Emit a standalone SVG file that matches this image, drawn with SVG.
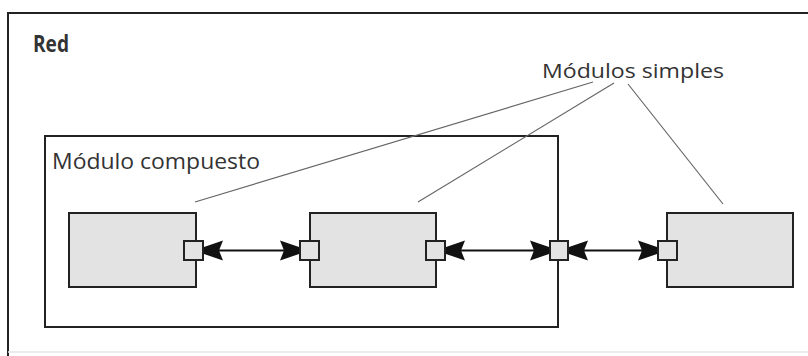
<svg xmlns="http://www.w3.org/2000/svg" width="808" height="356" viewBox="0 0 808 356">
  <style>
    .frame { fill: none; stroke: #222; stroke-width: 2; }
    .module { fill: #e3e3e3; stroke: #222; stroke-width: 2; }
    .port { fill: #e3e3e3; stroke: #222; stroke-width: 2; }
    .link { stroke: #111; stroke-width: 2; fill: none; marker-start: url(#head); marker-end: url(#head); }
    .callout { stroke: #666; stroke-width: 1.2; fill: none; }
    .label { font-family: "Open Sans", "DejaVu Sans", sans-serif; fill: #333; }
  </style>
  <defs>
    <!-- heavy notched arrowhead, blunt at the port side -->
    <marker id="head" viewBox="-20 -11 21 22" refX="0" refY="0" markerWidth="21" markerHeight="22" markerUnits="userSpaceOnUse" orient="auto-start-reverse">
      <path d="M0,-3.5 L-19,-10 L-15,0 L-19,10 L0,3.5 Z" fill="#111"/>
    </marker>
  </defs>

  <rect width="808" height="356" fill="#fff"/>

  <!-- network frame: open to the right, faint bottom edge -->
  <g id="red">
    <path class="frame" d="M810,13 H8 V356"/>
    <line x1="8" y1="352" x2="808" y2="352" stroke="#e6e6e6" stroke-width="1.5"/>
    <text class="label" x="33" y="52" font-size="23" font-weight="bold" fill="#111" textLength="36" lengthAdjust="spacingAndGlyphs">Red</text>
  </g>

  <!-- compound module -->
  <g id="compuesto">
    <rect class="frame" x="45" y="136" width="513" height="191"/>
    <text class="label" x="52" y="169" font-size="21" textLength="208" lengthAdjust="spacingAndGlyphs">Módulo compuesto</text>
  </g>

  <g id="modulo1">
    <rect class="module" x="69" y="213" width="127" height="74"/>
    <rect class="port" x="184" y="241" width="19" height="19"/>
  </g>

  <g id="modulo2">
    <rect class="module" x="310" y="213" width="126" height="74"/>
    <rect class="port" x="300" y="241" width="19" height="19"/>
    <rect class="port" x="426" y="241" width="19" height="19"/>
  </g>

  <g id="puerto-compuesto">
    <rect class="port" x="550" y="241" width="18" height="19"/>
  </g>

  <g id="modulo3">
    <rect class="module" x="667" y="213" width="126" height="74"/>
    <rect class="port" x="658" y="241" width="19" height="19"/>
  </g>

  <g id="etiqueta">
    <text class="label" x="542" y="78" font-size="20" textLength="182" lengthAdjust="spacingAndGlyphs">Módulos simples</text>
  </g>

  <g id="conectores">
    <line class="link" x1="204" y1="250.5" x2="299" y2="250.5"/>
    <line class="link" x1="446" y1="250.5" x2="549" y2="250.5"/>
    <line class="link" x1="569" y1="250.5" x2="657" y2="250.5"/>
    <line class="callout" x1="593" y1="82" x2="195" y2="202"/>
    <line class="callout" x1="614" y1="83" x2="418" y2="202"/>
    <line class="callout" x1="628" y1="84" x2="723" y2="204"/>
  </g>
</svg>
